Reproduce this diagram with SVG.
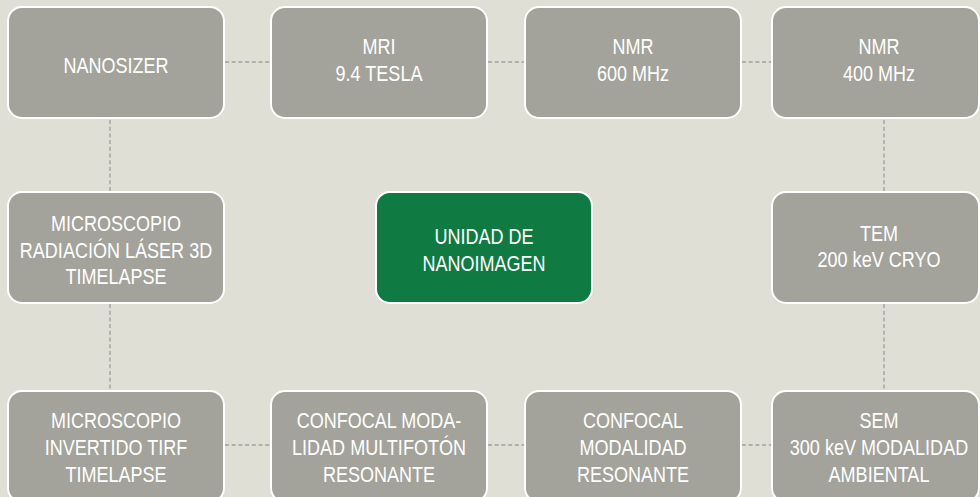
<svg xmlns="http://www.w3.org/2000/svg" width="980" height="497" viewBox="0 0 980 497">
  <style>
    .box { fill: #a3a39b; stroke: #ffffff; stroke-width: 2; }
    .main { fill: #107a43; stroke: #ffffff; stroke-width: 2; }
    .t { font-family: "Liberation Sans", Arial, sans-serif; font-size: 22px; fill: #ffffff; text-anchor: middle; }
    .c { stroke: #a0a0a0; stroke-width: 1.4; stroke-dasharray: 4 2.7; fill: none; }
  </style>
  <rect x="0" y="0" width="980" height="497" fill="#e0dfd5"/>
  <g id="connectors">
    <line class="c" x1="225" y1="62" x2="270" y2="62"/>
    <line class="c" x1="488" y1="62" x2="524" y2="62"/>
    <line class="c" x1="742" y1="62" x2="771" y2="62"/>
    <line class="c" x1="225" y1="445" x2="270" y2="445"/>
    <line class="c" x1="488" y1="445" x2="524" y2="445"/>
    <line class="c" x1="742" y1="445" x2="771" y2="445"/>
    <line class="c" x1="110" y1="120" x2="110" y2="191"/>
    <line class="c" x1="110" y1="304" x2="110" y2="390"/>
    <line class="c" x1="884" y1="120" x2="884" y2="191"/>
    <line class="c" x1="884" y1="304" x2="884" y2="390"/>
  </g>
  <g id="nanosizer">
    <rect class="box" x="8" y="7" width="216" height="111" rx="14"/>
    <g transform="translate(116 0) scale(0.82 1)">
      <text class="t" x="0" y="73">NANOSIZER</text>
    </g>
  </g>
  <g id="mri">
    <rect class="box" x="271" y="7" width="216" height="111" rx="14"/>
    <g transform="translate(379 0) scale(0.82 1)">
      <text class="t" x="0" y="54">MRI</text>
      <text class="t" x="0" y="81">9.4 TESLA</text>
    </g>
  </g>
  <g id="nmr600">
    <rect class="box" x="525" y="7" width="216" height="111" rx="14"/>
    <g transform="translate(633 0) scale(0.82 1)">
      <text class="t" x="0" y="54">NMR</text>
      <text class="t" x="0" y="81">600 MHz</text>
    </g>
  </g>
  <g id="nmr400">
    <rect class="box" x="772" y="7" width="207" height="111" rx="14"/>
    <g transform="translate(879 0) scale(0.82 1)">
      <text class="t" x="0" y="54">NMR</text>
      <text class="t" x="0" y="81">400 MHz</text>
    </g>
  </g>
  <g id="microscopio-laser">
    <rect class="box" x="8" y="192" width="216" height="111" rx="14"/>
    <g transform="translate(116 0) scale(0.82 1)">
      <text class="t" x="0" y="231.5">MICROSCOPIO</text>
      <text class="t" x="0" y="258">RADIACIÓN LÁSER 3D</text>
      <text class="t" x="0" y="284.5">TIMELAPSE</text>
    </g>
  </g>
  <g id="unidad">
    <rect class="main" x="376" y="192" width="216" height="111" rx="14"/>
    <g transform="translate(484 0) scale(0.82 1)">
      <text class="t" x="0" y="244">UNIDAD DE</text>
      <text class="t" x="0" y="270.7">NANOIMAGEN</text>
    </g>
  </g>
  <g id="tem">
    <rect class="box" x="772" y="192" width="207" height="111" rx="14"/>
    <g transform="translate(879 0) scale(0.82 1)">
      <text class="t" x="0" y="240.7">TEM</text>
      <text class="t" x="0" y="266.7">200 keV CRYO</text>
    </g>
  </g>
  <g id="microscopio-tirf">
    <rect class="box" x="8" y="391" width="216" height="111" rx="14"/>
    <g transform="translate(116 0) scale(0.82 1)">
      <text class="t" x="0" y="428">MICROSCOPIO</text>
      <text class="t" x="0" y="455">INVERTIDO TIRF</text>
      <text class="t" x="0" y="481.7">TIMELAPSE</text>
    </g>
  </g>
  <g id="confocal-multifoton">
    <rect class="box" x="271" y="391" width="216" height="111" rx="14"/>
    <g transform="translate(379 0) scale(0.82 1)">
      <text class="t" x="0" y="428">CONFOCAL MODA-</text>
      <text class="t" x="0" y="455">LIDAD MULTIFOTÓN</text>
      <text class="t" x="0" y="481.7">RESONANTE</text>
    </g>
  </g>
  <g id="confocal-resonante">
    <rect class="box" x="525" y="391" width="216" height="111" rx="14"/>
    <g transform="translate(633 0) scale(0.82 1)">
      <text class="t" x="0" y="428">CONFOCAL</text>
      <text class="t" x="0" y="455">MODALIDAD</text>
      <text class="t" x="0" y="481.7">RESONANTE</text>
    </g>
  </g>
  <g id="sem">
    <rect class="box" x="772" y="391" width="207" height="111" rx="14"/>
    <g transform="translate(879 0) scale(0.82 1)">
      <text class="t" x="0" y="428.5">SEM</text>
      <text class="t" x="0" y="455.5">300 keV MODALIDAD</text>
      <text class="t" x="0" y="481.7">AMBIENTAL</text>
    </g>
  </g>
</svg>
